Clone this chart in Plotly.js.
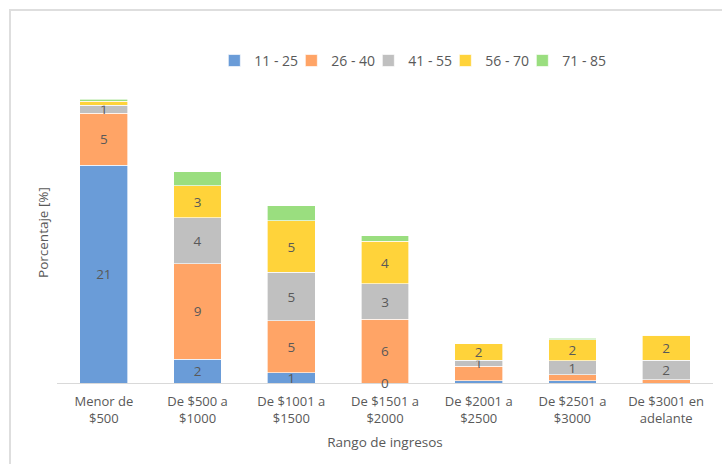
<!DOCTYPE html>
<html>
<head>
<meta charset="utf-8">
<script src="https://cdn.plot.ly/plotly-3.0.1.min.js"></script>
<style>
  html, body { margin: 0; padding: 0; background: #fff; }
  #wrap { position: relative; width: 722px; height: 464px; overflow: hidden; }
  #chart { width: 722px; height: 464px; }
  #frame { position: absolute; left: 9px; top: 9px; width: 730px; height: 470px;
           border-left: 2px solid #dedede; border-top: 2px solid #dedede; pointer-events: none; }
</style>
</head>
<body>
<div id="wrap">
  <div id="chart"></div>
  <div id="frame"></div>
</div>
<script>
// Categories (income ranges)
const categories = ["Menor de<br>$500", "De $500 a<br>$1000", "De $1001 a<br>$1500", "De $1501 a<br>$2000",
                    "De $2001 a<br>$2500", "De $2501 a<br>$3000", "De $3001 en<br>adelante"];

// Age groups (series names)
const seriesNames = ["11 - 25", "26 - 40", "41 - 55", "56 - 70", "71 - 85"];

// Percentages per age group
const age11_25 = [21.0, 2.3, 1.0, 0.0, 0.2, 0.2, 0.0];
const age26_40 = [5.0, 9.2, 5.0, 6.15, 1.4, 0.6, 0.3];
const age41_55 = [0.75, 4.4, 4.65, 3.4, 0.6, 1.35, 1.9];
const age56_70 = [0.4, 3.1, 5.0, 4.1, 1.6, 2.0, 2.4];
const age71_85 = [0.2, 1.35, 1.45, 0.55, 0.0, 0.15, 0.0];

// Data labels as shown in the picture ("" = no label)
const labels11_25 = ["21", "2", "1", "0", "", "", ""];
const labels26_40 = ["5", "9", "5", "6", "", "", ""];
const labels41_55 = ["1", "4", "5", "3", "1", "1", "2"];
const labels56_70 = ["", "3", "5", "4", "2", "2", "2"];
const labels71_85 = ["", "", "", "", "", "", ""];

const colors = ["#6a9cd8", "#ffa466", "#c0c0c0", "#ffd33a", "#9ade7f"];
const values = [age11_25, age26_40, age41_55, age56_70, age71_85];
const labels = [labels11_25, labels26_40, labels41_55, labels56_70, labels71_85];

const FONT = "'Open Sans', 'Noto Sans', sans-serif";
const TXT = "#595959";

const traces = values.map((v, i) => ({
  type: "bar",
  name: seriesNames[i],
  x: categories,
  y: v,
  text: labels[i].map((t, j) => (v[j] > 0 ? t : "")),
  textposition: "inside",
  insidetextanchor: "middle",
  textangle: 0,
  constraintext: "none",
  textfont: { family: FONT, size: 13.5, color: TXT },
  hoverinfo: "skip",
  legendwidth: i === values.length - 1 ? 50 : 32,
  marker: { color: colors[i], line: { color: "rgba(255,255,255,0.8)", width: 0.8 } }
}));

// Labels for zero-height segments are drawn at the baseline
const annotations = [];
values.forEach((v, i) => {
  v.forEach((val, j) => {
    if (val === 0 && labels[i][j] !== "") {
      annotations.push({ x: categories[j], y: 0, xref: "x", yref: "y", text: labels[i][j],
        showarrow: false, yanchor: "middle", font: { family: FONT, size: 13.5, color: TXT } });
    }
  });
});

const layout = {
  width: 722, height: 464,
  margin: { l: 57, r: 9, t: 82, b: 81 },
  paper_bgcolor: "#ffffff", plot_bgcolor: "#ffffff",
  barmode: "stack",
  bargap: 0.49,
  font: { family: FONT, size: 13, color: TXT },
  showlegend: true,
  legend: { orientation: "h", x: 0.547, xanchor: "center", y: 1.07, yanchor: "middle",
            font: { family: FONT, size: 14, color: TXT }, itemwidth: 30, traceorder: "normal",
            entrywidthmode: "pixels", bgcolor: "rgba(0,0,0,0)" },
  xaxis: {
    showline: true, linecolor: "#d9d9d9", linewidth: 1,
    ticks: "", showgrid: false, zeroline: false, ticklabelstandoff: 6,
    tickfont: { family: FONT, size: 13, color: TXT },
    title: { text: "Rango de ingresos", font: { family: FONT, size: 13.5, color: TXT }, standoff: 12 }
  },
  yaxis: {
    range: [0, 29], showline: false, showgrid: false, zeroline: false,
    showticklabels: false, ticks: "",
    title: { text: "Porcentaje [%]", font: { family: FONT, size: 13.5, color: TXT }, standoff: 4 }
  },
  annotations: annotations
};

Plotly.newPlot("chart", traces, layout, { displayModeBar: false, staticPlot: true });
</script>
</body>
</html>
